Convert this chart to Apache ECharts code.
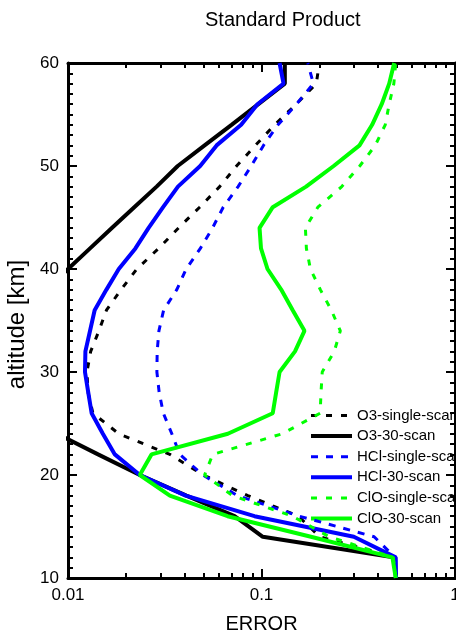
<!DOCTYPE html>
<html>
<head>
<meta charset="utf-8">
<script src="https://cdn.jsdelivr.net/npm/echarts@6/dist/echarts.min.js"></script>
<style>
html,body{margin:0;padding:0;background:#fff;}
#chart{width:456px;height:633px;}
</style>
</head>
<body>
<div id="chart"></div>
<script>
// Altitude levels (km), bottom to top
const altitudes = [10,12,14,16,18,20,22,24,26,28,30,32,34,36,38,40,42,44,46,48,50,52,54,56,58,60];

// Errors (same order as altitudes)
const o3Single  = [0.495,0.49,0.20,0.155,0.085,0.050,0.0336,0.0183,0.01345,0.0127,0.01253,0.0131,0.01445,0.0158,0.0188,0.0227,0.0294,0.0373,0.0479,0.0608,0.0743,0.093,0.117,0.151,0.192,0.199];
const o3Thirty  = [0.495,0.49,0.1016,0.0726,0.0409,0.0235,0.0143,0.0088,0.0055,0.0045,0.0043,0.0046,0.0052,0.0062,0.0078,0.0100,0.0130,0.0169,0.0220,0.0287,0.0369,0.0508,0.070,0.0963,0.132,0.132];
const hclSingle = [0.495,0.49,0.382,0.157,0.0752,0.0497,0.0378,0.0344,0.0311,0.0296,0.0288,0.0289,0.0295,0.0312,0.0365,0.0408,0.0483,0.0559,0.0634,0.0757,0.0885,0.1024,0.1217,0.1515,0.1854,0.1734];
const hclThirty = [0.495,0.494,0.30,0.092,0.0406,0.0235,0.01746,0.01514,0.01325,0.01273,0.01224,0.0123,0.0130,0.01373,0.0158,0.0183,0.0223,0.0261,0.0310,0.0370,0.0482,0.0586,0.0785,0.0953,0.130,0.124];
const cloSingle = [0.495,0.48,0.224,0.1445,0.0708,0.0508,0.056,0.128,0.201,0.203,0.206,0.2378,0.2555,0.2296,0.2014,0.179,0.1706,0.1686,0.1955,0.260,0.322,0.387,0.436,0.457,0.483,0.494];
const cloThirty = [0.494,0.475,0.18,0.0668,0.0336,0.0235,0.027,0.067,0.1143,0.119,0.124,0.149,0.1667,0.145,0.1264,0.1074,0.0994,0.0977,0.1143,0.170,0.236,0.321,0.373,0.418,0.457,0.485];

const seriesNames = ['O3-single-scan','O3-30-scan','HCl-single-scan','HCl-30-scan','ClO-single-scan','ClO-30-scan'];
const xMajorTicks = [0.01, 0.1, 1];
const xMinorTicks = [0.02,0.03,0.04,0.05,0.06,0.07,0.08,0.09,0.2,0.3,0.4,0.5,0.6,0.7,0.8,0.9];
const yTicks = [10,20,30,40,50,60];

const FONT = 'Liberation Sans, Arial, Helvetica, sans-serif';
const seriesValues = [o3Single, o3Thirty, hclSingle, hclThirty, cloSingle, cloThirty];
const styles = [
  {color:'#000000', width:3, type:[6,9]},
  {color:'#000000', width:4, type:'solid'},
  {color:'#0000ff', width:3, type:[7,8]},
  {color:'#0000ff', width:4, type:'solid'},
  {color:'#00ff00', width:3, type:[6,9]},
  {color:'#00ff00', width:4, type:'solid'}
];

function pairs(vals){ return vals.map((v,i)=>[v, altitudes[i]]); }

const chart = echarts.init(document.getElementById('chart'), null, {renderer:'canvas'});

const axisLineStyle = {color:'#000', width:3};
const tickStyle = {color:'#000', width:2};

function xAxisBase(pos){
  return {
    type:'log', logBase:10, min:0.01, max:1, position:pos, gridIndex:0,
    splitLine:{show:false}, minorSplitLine:{show:false}
  };
}

const option = {
  animation:false,
  backgroundColor:'#ffffff',
  title:{
    text:'Standard Product', left:205, top:10, padding:0,
    textStyle:{fontFamily:FONT, fontSize:20, fontWeight:'normal', color:'#000'}
  },
  legend:{
    data:seriesNames.map((n,i)=>({
      name:n,
      lineStyle:{color:styles[i].color, width:styles[i].width, type:styles[i].type},
      itemStyle:{color:'rgba(0,0,0,0)', borderColor:'rgba(0,0,0,0)', borderWidth:0, opacity:0}
    })),
    orient:'vertical', left:309, top:408, padding:0,
    itemWidth:41, itemHeight:14, itemGap:5.6,
    textStyle:{fontFamily:FONT, fontSize:15, color:'#000'}
  },
  grid:{left:68, right:1, top:63, bottom:55, containLabel:false, outerBoundsMode:'none'},
  xAxis:[
    Object.assign(xAxisBase('bottom'), {
      axisLine:{show:true, lineStyle:axisLineStyle},
      axisTick:{show:true, inside:true, length:9, lineStyle:tickStyle, customValues:xMajorTicks},
      axisLabel:{show:true, fontFamily:FONT, fontSize:17, color:'#000', margin:9, customValues:xMajorTicks,
        formatter:function(v){ return String(+(+v).toPrecision(3)); }},
      name:'ERROR', nameLocation:'middle', nameGap:36,
      nameTextStyle:{fontFamily:FONT, fontSize:20, color:'#000'}
    }),
    Object.assign(xAxisBase('bottom'), {
      axisLine:{show:false},
      axisTick:{show:true, inside:true, length:5, lineStyle:tickStyle, customValues:xMinorTicks},
      axisLabel:{show:false}
    }),
    Object.assign(xAxisBase('top'), {
      axisLine:{show:true, lineStyle:axisLineStyle},
      axisTick:{show:true, inside:true, length:9, lineStyle:tickStyle, customValues:xMajorTicks},
      axisLabel:{show:false}
    }),
    Object.assign(xAxisBase('top'), {
      axisLine:{show:false},
      axisTick:{show:true, inside:true, length:5, lineStyle:tickStyle, customValues:xMinorTicks},
      axisLabel:{show:false}
    })
  ],
  yAxis:[
    {
      type:'value', min:10, max:60, interval:10, position:'left',
      axisLine:{show:true, lineStyle:axisLineStyle},
      axisTick:{show:true, inside:true, length:9, lineStyle:tickStyle},
      minorTick:{show:true, splitNumber:10, length:5, lineStyle:tickStyle},
      axisLabel:{show:true, fontFamily:FONT, fontSize:17, color:'#000', margin:9, customValues:yTicks},
      splitLine:{show:false},
      name:'altitude [km]', nameLocation:'middle', nameGap:37, nameRotate:90,
      nameTextStyle:{fontFamily:FONT, fontSize:24, color:'#000', padding:[0,8,0,0]}
    },
    {
      type:'value', min:10, max:60, interval:10, position:'right',
      axisLine:{show:true, lineStyle:axisLineStyle},
      axisTick:{show:true, inside:true, length:9, lineStyle:tickStyle},
      minorTick:{show:true, splitNumber:10, length:5, lineStyle:tickStyle},
      axisLabel:{show:false},
      splitLine:{show:false}
    }
  ],
  series: seriesNames.map((name,i)=>({
    name:name, type:'line', xAxisIndex:0, yAxisIndex:0,
    data:pairs(seriesValues[i]),
    symbol:'none', showSymbol:false, clip:true, smooth:false,
    lineStyle:{color:styles[i].color, width:styles[i].width, type:styles[i].type},
    itemStyle:{color:styles[i].color},
    z:2+i
  }))
};

chart.setOption(option);
</script>
</body>
</html>
